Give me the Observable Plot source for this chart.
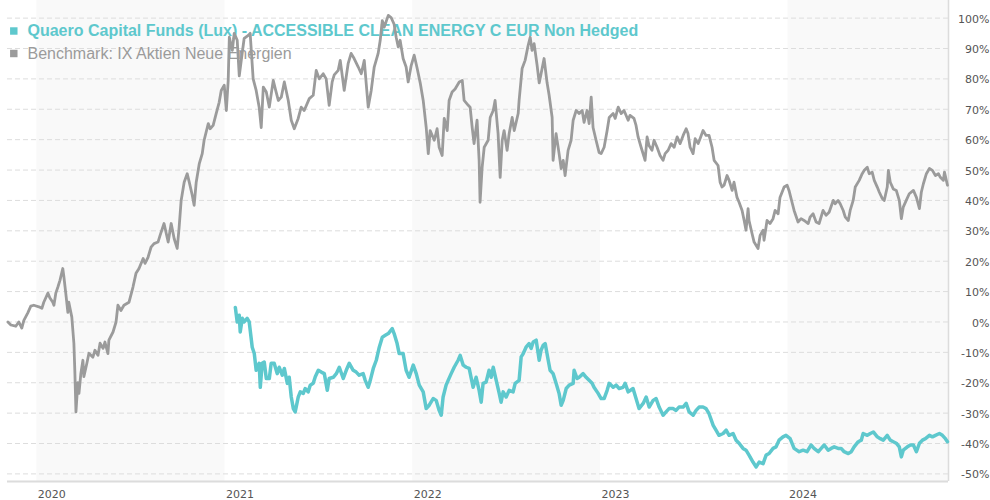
<!DOCTYPE html>
<html><head><meta charset="utf-8">
<script src="https://cdn.jsdelivr.net/npm/d3@7"></script>
<script src="https://cdn.jsdelivr.net/npm/@observablehq/plot@0.6"></script>
<style>body{margin:0;background:#fff}#chart{width:990px;height:500px}</style>
</head><body><div id="chart"></div><script>
// Dates as decimal years, values in % performance
const benchTimes = [
2019.846,2019.862,2019.888,2019.904,2019.920,2019.931,2019.952,2019.968,2019.984,2020.011,
2020.027,2020.037,2020.059,2020.069,2020.085,2020.091,2020.101,2020.112,2020.123,2020.138,
2020.144,2020.154,2020.165,2020.170,2020.186,2020.197,2020.202,2020.208,2020.218,2020.224,
2020.234,2020.245,2020.250,2020.266,2020.277,2020.298,2020.309,2020.325,2020.336,2020.352,
2020.362,2020.378,2020.383,2020.405,2020.421,2020.431,2020.447,2020.463,2020.490,2020.511,
2020.527,2020.543,2020.565,2020.575,2020.591,2020.607,2020.623,2020.644,2020.655,2020.676,
2020.698,2020.714,2020.730,2020.746,2020.756,2020.767,2020.783,2020.799,2020.810,2020.826,
2020.836,2020.847,2020.863,2020.879,2020.889,2020.911,2020.921,2020.937,2020.953,2020.969,
2020.980,2020.996,2021.007,2021.017,2021.023,2021.039,2021.049,2021.065,2021.076,2021.092,
2021.102,2021.124,2021.134,2021.150,2021.166,2021.182,2021.193,2021.204,2021.220,2021.236,
2021.257,2021.268,2021.284,2021.300,2021.316,2021.337,2021.353,2021.369,2021.390,2021.406,
2021.422,2021.449,2021.470,2021.486,2021.502,2021.523,2021.539,2021.555,2021.571,2021.582,
2021.603,2021.614,2021.635,2021.656,2021.672,2021.688,2021.710,2021.726,2021.742,2021.752,
2021.763,2021.779,2021.795,2021.816,2021.827,2021.838,2021.848,2021.870,2021.885,2021.901,
2021.912,2021.923,2021.933,2021.949,2021.965,2021.976,2021.992,2022.008,2022.024,2022.040,
2022.056,2022.072,2022.083,2022.093,2022.115,2022.130,2022.141,2022.157,2022.168,2022.184,
2022.194,2022.210,2022.226,2022.248,2022.264,2022.274,2022.296,2022.306,2022.317,2022.327,
2022.343,2022.354,2022.359,2022.370,2022.381,2022.402,2022.413,2022.429,2022.439,2022.455,
2022.466,2022.477,2022.487,2022.503,2022.514,2022.530,2022.541,2022.562,2022.567,2022.583,
2022.599,2022.615,2022.626,2022.636,2022.647,2022.663,2022.674,2022.684,2022.700,2022.716,
2022.727,2022.743,2022.748,2022.764,2022.780,2022.791,2022.802,2022.812,2022.828,2022.844,
2022.855,2022.871,2022.887,2022.903,2022.913,2022.929,2022.940,2022.951,2022.961,2022.977,
2022.993,2023.004,2023.020,2023.036,2023.047,2023.068,2023.079,2023.095,2023.111,2023.126,
2023.148,2023.158,2023.179,2023.190,2023.201,2023.217,2023.233,2023.238,2023.249,2023.259,
2023.275,2023.286,2023.302,2023.318,2023.334,2023.345,2023.361,2023.377,2023.393,2023.409,
2023.425,2023.441,2023.457,2023.467,2023.478,2023.494,2023.505,2023.521,2023.531,2023.547,
2023.563,2023.579,2023.595,2023.606,2023.627,2023.638,2023.648,2023.659,2023.675,2023.686,
2023.702,2023.712,2023.728,2023.739,2023.755,2023.766,2023.776,2023.787,2023.792,2023.808,
2023.819,2023.840,2023.851,2023.867,2023.872,2023.888,2023.904,2023.920,2023.931,2023.947,
2023.957,2023.979,2023.995,2024.005,2024.021,2024.032,2024.053,2024.069,2024.085,2024.107,
2024.117,2024.133,2024.149,2024.165,2024.186,2024.202,2024.218,2024.240,2024.250,2024.266,
2024.277,2024.293,2024.304,2024.320,2024.330,2024.346,2024.357,2024.378,2024.394,2024.405,
2024.421,2024.431,2024.447,2024.458,2024.474,2024.485,2024.501,2024.511,2024.527,2024.533,
2024.543,2024.559,2024.575,2024.591,2024.602,2024.612,2024.628,2024.644,2024.666,2024.682,
2024.698,2024.708,2024.719,2024.735,2024.751,2024.767,2024.783,2024.799,2024.809,2024.825,
2024.831,2024.847];
const benchValues = [
0,-1,-1.4,0,-2,0.5,3,5.2,5.5,5,
4.5,6.5,9.5,8,6.5,5.5,9.5,11.5,13.7,17.6,
14.8,9.4,3.2,6.5,1.6,-7,-16,-29.6,-20,-23.5,
-17,-12.6,-18,-13.6,-10.3,-11.6,-9.3,-11,-7,-8.7,
-6.6,-10.4,-6,-3.3,0,5.5,3.8,5.5,6.5,11.5,
16,17.6,20.9,19.3,21.3,24.6,25.8,26.3,28.5,32.4,
26.3,32.4,27.4,24.2,31,40,46,48.8,46,41.7,
38.4,46,52,55.4,59.8,65.3,63.6,64.7,68.6,72.3,
76.2,77.9,69.6,79.5,93.7,89.4,95,92.7,81,88.7,
93.3,94.3,95,80,76.2,70.7,64,77.3,75.7,70.7,
79.5,76.7,72.9,74,79,72.9,66.4,63.6,67,70.7,
69.6,73.5,74.6,82.8,80,81.7,80,71.3,79,81.3,
82.8,86.1,76.2,85,88.4,86.7,83.9,81.7,86.1,78.7,
70.7,76.2,83.9,88.4,92.7,99.2,97,100.9,100.2,98,
93.7,90.5,92.7,86.7,83.9,79,84.4,87.8,83.4,78.7,
72.9,64,55.4,63,59.8,63.6,57.5,54.8,67,63,
72.9,75.7,76.7,79,79.5,72.9,71.3,70.7,64,58.7,
66.4,53.2,39.4,50.9,57.5,59.8,67.3,69.6,72.9,62,
47.6,59.8,63,56.5,62,67.3,63,68.6,72.9,83.4,
86.1,91,93.7,89.4,91.6,84.4,78.7,81.7,86.7,78.7,
74.6,67.3,53.2,62,55.4,50.5,53.2,48.2,56.5,59.8,
66.4,69.6,68.6,69.6,65.7,69.6,65.3,74,64,59.8,
55.8,55.4,57.5,63,67.3,68.6,67,70.7,68.6,69.6,
66.4,68,67,64.7,60.9,57.5,54.3,53.2,60.9,58.1,
56.5,59.8,57.5,54.8,53.2,55.4,56.5,58.7,57.5,60.9,
58.7,61.4,63.6,62,57.5,55.4,60.3,58.7,60.3,63,
61.4,61.4,57.5,53.2,51.5,46,44.4,45,48.2,46.6,
43.3,46,41,39.4,36.7,33.4,30.2,37.3,33.4,29.1,
26.3,24.2,28.5,30.2,26.9,33.4,32.4,34,36.7,35.6,
41,44.4,45,43.3,39.4,36.7,32.9,34,33.4,32.4,
34.5,35.6,32.9,32.4,36.7,35.1,36.1,40,38.9,40,
38.9,36.7,34.5,33.4,36.7,40,44.4,46.6,48.8,49.9,
50.9,48.8,49.3,46.6,44.4,42.7,40.6,40,44.4,49.9,
46,43.8,43.3,40,34,37.8,40,42.2,43.3,41,
37.3,42.7,45.5,48.8,50.5,49.9,48.2,48.8,47.6,46.6,
49.3,45];
const fundTimes = [
2021.055,2021.065,2021.076,2021.081,2021.092,2021.102,2021.118,2021.129,2021.145,2021.156,
2021.166,2021.182,2021.188,2021.198,2021.209,2021.220,2021.236,2021.246,2021.262,2021.278,
2021.289,2021.305,2021.316,2021.332,2021.342,2021.353,2021.364,2021.374,2021.390,2021.401,
2021.417,2021.427,2021.443,2021.454,2021.470,2021.481,2021.497,2021.513,2021.529,2021.545,
2021.555,2021.577,2021.593,2021.609,2021.630,2021.646,2021.662,2021.683,2021.699,2021.715,
2021.736,2021.747,2021.763,2021.774,2021.790,2021.806,2021.822,2021.838,2021.854,2021.870,
2021.891,2021.901,2021.917,2021.928,2021.949,2021.965,2021.981,2022.003,2022.019,2022.035,
2022.056,2022.072,2022.088,2022.109,2022.125,2022.141,2022.152,2022.162,2022.178,2022.189,
2022.205,2022.221,2022.242,2022.253,2022.269,2022.285,2022.301,2022.322,2022.338,2022.354,
2022.365,2022.375,2022.391,2022.407,2022.418,2022.429,2022.445,2022.461,2022.471,2022.482,
2022.498,2022.514,2022.535,2022.546,2022.567,2022.578,2022.589,2022.604,2022.620,2022.631,
2022.642,2022.658,2022.674,2022.684,2022.695,2022.706,2022.722,2022.732,2022.748,2022.764,
2022.780,2022.791,2022.802,2022.818,2022.834,2022.855,2022.860,2022.876,2022.887,2022.908,
2022.924,2022.940,2022.956,2022.966,2022.988,2023.004,2023.020,2023.036,2023.047,2023.068,
2023.084,2023.100,2023.121,2023.132,2023.148,2023.174,2023.190,2023.206,2023.228,2023.244,
2023.260,2023.281,2023.297,2023.313,2023.334,2023.350,2023.366,2023.387,2023.403,2023.419,
2023.441,2023.457,2023.473,2023.494,2023.510,2023.526,2023.547,2023.563,2023.579,2023.601,
2023.616,2023.632,2023.654,2023.670,2023.686,2023.707,2023.723,2023.739,2023.760,2023.776,
2023.792,2023.813,2023.830,2023.846,2023.867,2023.883,2023.899,2023.920,2023.936,2023.952,
2023.973,2023.989,2024.011,2024.032,2024.059,2024.080,2024.101,2024.122,2024.138,2024.160,
2024.176,2024.192,2024.213,2024.229,2024.245,2024.266,2024.282,2024.298,2024.320,2024.336,
2024.351,2024.373,2024.389,2024.399,2024.421,2024.437,2024.453,2024.474,2024.490,2024.506,
2024.527,2024.543,2024.559,2024.575,2024.591,2024.602,2024.612,2024.634,2024.650,2024.666,
2024.682,2024.698,2024.714,2024.730,2024.751,2024.767,2024.783,2024.804,2024.820,2024.836,
2024.847];
const fundValues = [
4.8,0,2.2,-3.3,1.2,0,1.2,0,-8.3,-10.4,
-15.9,-13.6,-21.5,-13.6,-13.2,-18.6,-18.6,-13.6,-13.6,-17,
-14.9,-17.5,-15.3,-20.2,-18.2,-24.7,-28.5,-29.6,-24.7,-23,
-23.5,-21.9,-23,-20.8,-20.2,-18,-15.9,-16.5,-17,-22.5,
-18.6,-18.2,-17,-14.9,-18.6,-15.9,-13.6,-15.9,-16.5,-17.5,
-17,-19.2,-21.5,-19.2,-15.3,-12.6,-8.3,-5,-4.4,-3.8,
-2.2,-3.8,-7.1,-10.4,-10.4,-15.9,-18.2,-14.2,-17,-20.8,
-23,-28.5,-27.4,-25.2,-25.8,-29.1,-30.7,-24.7,-20.8,-19.2,
-17,-14.9,-12.6,-11,-14.2,-14.9,-15.3,-21.5,-18.2,-22.5,
-26.4,-20.2,-19.8,-15.9,-18.2,-14.9,-19.2,-23.5,-26.4,-23,
-24.7,-22.5,-23,-20.2,-19.2,-11.5,-10.4,-8.3,-7.1,-8.7,
-6.6,-6,-12.6,-9.3,-7.7,-7.1,-12.6,-15.9,-17,-20.2,
-23.5,-27.4,-25.8,-21.9,-20.8,-20.2,-15.9,-18.6,-18.2,-17,
-18.2,-19.2,-20.2,-21.5,-23.5,-25.2,-25.2,-22.5,-20.2,-21.5,
-20.8,-21.9,-21.5,-20.2,-23,-21.9,-25.2,-28.5,-26.8,-24.7,
-28,-25.8,-25.2,-28,-30.7,-29.6,-28.5,-28.5,-29.1,-28,
-28,-26.8,-29.6,-30.7,-29.1,-28,-28,-28.5,-30.2,-34,
-35.6,-37.3,-36.7,-35.6,-37.3,-36.7,-38.9,-39.9,-41.6,-42.2,
-43.8,-46.1,-47.7,-46.1,-46.6,-43.8,-43.3,-41.6,-41.1,-38.9,
-37.8,-37.3,-38.4,-41.6,-42.7,-42.2,-42.7,-40.5,-41.6,-42.7,
-41.6,-40.5,-42.2,-41.6,-41.1,-41.6,-41.6,-42.7,-43.3,-42.7,
-41.1,-39.4,-38.9,-36.7,-37.3,-36.7,-36.2,-37.8,-38.4,-38.9,
-37.3,-38.9,-39.4,-39.9,-41.1,-44.4,-42.2,-41.1,-40.5,-40.5,
-42.7,-39.9,-38.9,-38.4,-37.3,-37.8,-37.3,-36.7,-37.3,-38.4,
-39.4];
const yTicks = [-50,-40,-30,-20,-10,0,10,20,30,40,50,60,70,80,90,100];
const yearTicks = [2020,2021,2022,2023,2024];
const shadedYears = [2020,2022,2024];
const fundName = "Quaero Capital Funds (Lux) - ACCESSIBLE CLEAN ENERGY C EUR Non Hedged";
const benchName = "Benchmark: IX Aktien Neue Energien";
const fundColor = "#5ec8cd", benchColor = "#9b9b9b";

const toDate = t => { const y = Math.floor(t), a = Date.UTC(y,0,1), b = Date.UTC(y+1,0,1); return new Date(a + (t - y) * (b - a)); };
const bench = benchTimes.map((t,i) => ({date: toDate(t), value: benchValues[i]}));
const fund = fundTimes.map((t,i) => ({date: toDate(t), value: fundValues[i]}));
const xDomain = [new Date(Date.UTC(2019,10,5)), new Date(Date.UTC(2024,10,8))];
const yDomain = [-52.5, 105.8];
const bands = shadedYears.map(y => ({x1: new Date(Date.UTC(y,0,1)), x2: new Date(Date.UTC(y+1,0,1))}));
const years = yearTicks.map(y => new Date(Date.UTC(y,0,1)));

const chart = Plot.plot({
  width: 990, height: 500,
  marginTop: 0, marginBottom: 19, marginLeft: 7, marginRight: 42,
  style: {fontFamily: "'DejaVu Sans', Verdana, sans-serif", fontSize: "11px", background: "#fff", color: "#555"},
  x: {type: "utc", domain: xDomain},
  y: {domain: yDomain},
  marks: [
    Plot.rect(bands, {x1: "x1", x2: "x2", fill: "#f9f9f9", clip: true}),
    Plot.gridY(yTicks, {stroke: "#dddddd", strokeOpacity: 1, strokeDasharray: "5,3"}),
    Plot.ruleY([yDomain[0]], {stroke: "#dcdcdc", strokeWidth: 2}),
    Plot.ruleX([xDomain[1]], {stroke: "#dcdcdc", strokeWidth: 1.5}),
    Plot.dot([fundName], {frameAnchor: "top-left", dx: 6.3, dy: 30.5, symbol: "square", r: 4.2, fill: fundColor, stroke: null}),
    Plot.dot([benchName], {frameAnchor: "top-left", dx: 6.3, dy: 53, symbol: "square", r: 4.2, fill: benchColor, stroke: null}),
    Plot.text([fundName], {frameAnchor: "top-left", dx: 20, dy: 30, lineAnchor: "middle", text: d => d, textAnchor: "start", fill: fundColor, fontWeight: "bold", fontSize: 16, fontFamily: "'Liberation Sans', Arial, sans-serif"}),
    Plot.text([benchName], {frameAnchor: "top-left", dx: 20, dy: 53, lineAnchor: "middle", text: d => d, textAnchor: "start", fill: benchColor, fontSize: 16, fontFamily: "'Liberation Sans', Arial, sans-serif"}),
    Plot.line(bench, {x: "date", y: "value", stroke: benchColor, strokeWidth: 2.8, strokeLinejoin: "round"}),
    Plot.line(fund, {x: "date", y: "value", stroke: fundColor, strokeWidth: 3.5, strokeLinejoin: "round"}),
    Plot.axisY(yTicks, {anchor: "right", tickSize: 0, tickPadding: 0, textAnchor: "end", dx: 41, dy: 1, tickFormat: d => `${d}%`, fill: "#555", label: null}),
    Plot.axisX(years, {anchor: "bottom", tickSize: 0, textAnchor: "start", dx: 1, tickFormat: d3.utcFormat("%Y"), fill: "#555", label: null})
  ]
});
document.getElementById("chart").append(chart);
</script></body></html>
